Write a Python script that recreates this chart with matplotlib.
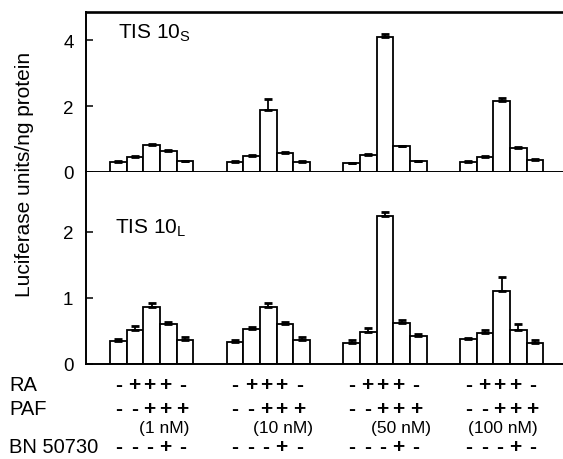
import matplotlib
matplotlib.use('Agg')
import matplotlib.pyplot as plt
from matplotlib.transforms import blended_transform_factory

plt.rcParams['font.family'] = ['Liberation Sans', 'DejaVu Sans']
plt.rcParams['mathtext.fontset'] = 'custom'
plt.rcParams['mathtext.rm'] = 'Liberation Sans'
plt.rcParams['mathtext.it'] = 'Liberation Sans:italic'

# ---- data ----
conc_labels = ['(1 nM)', '(10 nM)', '(50 nM)', '(100 nM)']
ra = ['-', '+', '+', '+', '-']
paf = ['-', '-', '+', '+', '+']
bn = ['-', '-', '-', '+', '-']

tis_s = [[0.31, 0.44, 0.82, 0.63, 0.32],
         [0.29, 0.49, 1.88, 0.58, 0.31],
         [0.26, 0.52, 4.10, 0.78, 0.32],
         [0.30, 0.46, 2.15, 0.73, 0.37]]
tis_s_err = [[0.02, 0.03, 0.02, 0.03, 0.02],
             [0.03, 0.03, 0.32, 0.03, 0.02],
             [0.02, 0.03, 0.09, 0.02, 0.02],
             [0.02, 0.02, 0.09, 0.03, 0.02]]
tis_l = [[0.34, 0.51, 0.86, 0.61, 0.37],
         [0.33, 0.53, 0.86, 0.61, 0.37],
         [0.32, 0.49, 2.23, 0.62, 0.42],
         [0.38, 0.47, 1.10, 0.52, 0.32]]
tis_l_err = [[0.04, 0.07, 0.06, 0.03, 0.04],
             [0.03, 0.03, 0.06, 0.03, 0.04],
             [0.04, 0.06, 0.06, 0.04, 0.03],
             [0.02, 0.04, 0.21, 0.09, 0.04]]

W, H = 563, 460
fig = plt.figure(figsize=(W / 100, H / 100), dpi=100)

left = 86 / W
width = (566 - 86) / W
ax1 = fig.add_axes([left, 1 - 173 / H, width, 160 / H])
ax2 = fig.add_axes([left, 1 - 365 / H, width, 192 / H])

GAP = 7
xs = [[GAP * g + i for i in range(5)] for g in range(4)]


def draw(ax, vals, errs, ylim, ticks):
    for g in range(4):
        ax.bar(xs[g], vals[g], width=1.0, color='white', edgecolor='black',
               linewidth=1.3, zorder=2)
        ax.errorbar(xs[g], vals[g], yerr=[[0] * 5, errs[g]], fmt='none',
                    ecolor='black', elinewidth=1.3, capsize=2.8,
                    capthick=2.0, zorder=3)
    ax.set_xlim(-1.94, 26.85)
    ax.set_ylim(*ylim)
    ax.set_yticks(ticks)
    ax.set_yticklabels([str(t) for t in ticks])
    ax.tick_params(axis='y', direction='in', length=5, width=1.1,
                   labelsize=13.5, pad=9)
    ax.tick_params(axis='x', bottom=False, labelbottom=False)
    ax.spines['right'].set_visible(False)
    for s in ['left', 'bottom', 'top']:
        ax.spines[s].set_linewidth(1.4)


draw(ax1, tis_s, tis_s_err, (0, 4.85), [0, 2, 4])
draw(ax2, tis_l, tis_l_err, (0, 2.9), [0, 1, 2])
ax2.spines['top'].set_visible(False)
ax1.spines['top'].set_linewidth(1.9)

ax1.text(-0.02, 4.06, 'TIS 10$_\\mathrm{S}$', fontsize=15, ha='left', va='baseline')
ax2.text(-0.2, 1.99, 'TIS 10$_\\mathrm{L}$', fontsize=15, ha='left', va='baseline')

fig.text(25 / W, 1 - 174.5 / H, 'Luciferase units/ng protein', rotation=90,
         ha='center', va='center', fontsize=15)

# ---- condition rows ----
tr = blended_transform_factory(ax2.transData, fig.transFigure)
sym_off = [0, 0.95, 1.85, 2.8, 3.85]
conc_off = [2.76, 2.88, 2.94, 2.06]
rows = [(ra, 385.5), (paf, 409.5), (bn, 448)]
for syms, ypx in rows:
    for g in range(4):
        for i, s in enumerate(syms):
            ax2.text(GAP * g + sym_off[i], 1 - ypx / H, s, transform=tr,
                     ha='center', va='center', fontsize=15, fontweight='bold',
                     clip_on=False)
for g in range(4):
    ax2.text(GAP * g + conc_off[g], 1 - 429 / H, conc_labels[g], transform=tr,
             ha='center', va='center', fontsize=12.5, clip_on=False)

for lab, ypx in [('RA', 385.5), ('PAF', 409.5), ('BN 50730', 448)]:
    fig.text(9 / W, 1 - ypx / H, lab, ha='left', va='center', fontsize=14.5)

fig.savefig('out.png', dpi=100)
